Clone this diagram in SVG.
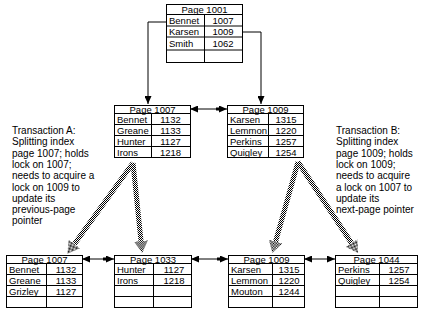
<svg xmlns="http://www.w3.org/2000/svg" width="423" height="316" viewBox="0 0 423 316">
<style>
.cell{fill:#fff;stroke:#000;stroke-width:1}
.grid{stroke:#000;stroke-width:1;fill:none}
text{font-family:"Liberation Sans",Arial,sans-serif;font-size:9.5px;fill:#000}
.hd{text-anchor:middle}
.num{text-anchor:middle}
.note{font-size:10px}
.conn{stroke:#000;stroke-width:1;fill:none}
.hatch{stroke:url(#hatch);stroke-width:5;fill:none}
</style>
<defs>
<pattern id="hatch" width="2" height="2" patternUnits="userSpaceOnUse">
<rect width="2" height="2" fill="#fff"/>
<rect width="1" height="1" fill="#000"/>
<rect x="1" y="1" width="1" height="1" fill="#000"/>
</pattern>
<marker id="ah" viewBox="0 0 8 7" refX="8" refY="3.5" markerWidth="8" markerHeight="7" markerUnits="userSpaceOnUse" orient="auto-start-reverse">
<path d="M0,0 L8,3.5 L0,7 z" fill="#000"/>
</marker>
<marker id="hh" viewBox="0 0 12 14" refX="0" refY="7" markerWidth="12" markerHeight="14" markerUnits="userSpaceOnUse" orient="auto">
<path d="M0,0 L12,7 L0,14 z" fill="url(#hatch)"/>
</marker>
</defs>
<rect width="423" height="316" fill="#fff"/>

<g id="connectors">
<polyline class="conn" points="166,22 148,22 148,104" marker-end="url(#ah)"/>
<polyline class="conn" points="242,32 261,32 261,104" marker-end="url(#ah)"/>
<line class="conn" x1="190" y1="109" x2="227" y2="109" marker-start="url(#ah)" marker-end="url(#ah)"/>
<rect x="216" y="107.5" width="3" height="3" fill="#000"/>
<line class="conn" x1="82" y1="259" x2="114" y2="259" marker-start="url(#ah)" marker-end="url(#ah)"/>
<rect x="103" y="257.5" width="3" height="3" fill="#000"/>
<line class="conn" x1="191" y1="259" x2="228" y2="259" marker-start="url(#ah)" marker-end="url(#ah)"/>
<rect x="217" y="257.5" width="3" height="3" fill="#000"/>
<line class="conn" x1="304" y1="259" x2="335" y2="259" marker-start="url(#ah)" marker-end="url(#ah)"/>
<line class="hatch" x1="133" y1="163" x2="74.4" y2="244" marker-end="url(#hh)"/>
<line class="hatch" x1="133" y1="163" x2="141" y2="241" marker-end="url(#hh)"/>
<line class="hatch" x1="298" y1="162" x2="275.6" y2="241.5" marker-end="url(#hh)"/>
<line class="hatch" x1="298" y1="162" x2="351.5" y2="243" marker-end="url(#hh)"/>
</g>

<g id="page1001">
<rect class="cell" x="166.5" y="4.5" width="76" height="58"/>
<path class="grid" d="M166.5,14.5H242.5M166.5,26H242.5M166.5,37H242.5M166.5,50H242.5M204.5,14.5V62.5"/>
<text class="hd" x="204.5" y="12.5">Page 1001</text>
<text x="169" y="23.5">Bennet</text><text class="num" x="223" y="23.5">1007</text>
<text x="169" y="34.5">Karsen</text><text class="num" x="223" y="34.5">1009</text>
<text x="169" y="46.5">Smith</text><text class="num" x="223" y="46.5">1062</text>
</g>

<g id="page1007a">
<rect class="cell" x="114.5" y="105.5" width="76" height="52"/>
<path class="grid" d="M114.5,113.5H190.5M114.5,124.5H190.5M114.5,135.5H190.5M114.5,146.5H190.5M151.5,113.5V157.5"/>
<text class="hd" x="152.5" y="112.5">Page 1007</text>
<text x="117" y="122.5">Bennet</text><text class="num" x="170.5" y="122.5">1132</text>
<text x="117" y="133.5">Greane</text><text class="num" x="170.5" y="133.5">1133</text>
<text x="117" y="144.5">Hunter</text><text class="num" x="170.5" y="144.5">1127</text>
<text x="117" y="155.5">Irons</text><text class="num" x="170.5" y="155.5">1218</text>
</g>

<g id="page1009a">
<rect class="cell" x="227.5" y="105.5" width="76" height="52"/>
<path class="grid" d="M227.5,113.5H303.5M227.5,124.5H303.5M227.5,135.5H303.5M227.5,146.5H303.5M268.5,113.5V157.5"/>
<text class="hd" x="265.5" y="112.5">Page 1009</text>
<text x="230" y="122.5">Karsen</text><text class="num" x="286" y="122.5">1315</text>
<text x="230" y="133.5">Lemmon</text><text class="num" x="286" y="133.5">1220</text>
<text x="230" y="144.5">Perkins</text><text class="num" x="286" y="144.5">1257</text>
<text x="230" y="155.5">Quigley</text><text class="num" x="286" y="155.5">1254</text>
</g>

<g id="noteA">
<text class="note" x="12" y="134">Transaction A:</text>
<text class="note" x="12" y="145.3">Splitting index</text>
<text class="note" x="12" y="156.6">page 1007; holds</text>
<text class="note" x="12" y="167.9">lock on 1007;</text>
<text class="note" x="12" y="179.2">needs to acquire a</text>
<text class="note" x="12" y="190.5">lock on 1009 to</text>
<text class="note" x="12" y="201.8">update its</text>
<text class="note" x="12" y="213.1">previous-page</text>
<text class="note" x="12" y="224.4">pointer</text>
</g>

<g id="noteB">
<text class="note" x="336" y="134">Transaction B:</text>
<text class="note" x="336" y="145.3">Splitting index</text>
<text class="note" x="336" y="156.6">page 1009; holds</text>
<text class="note" x="336" y="167.9">lock on 1009;</text>
<text class="note" x="336" y="179.2">needs to acquire</text>
<text class="note" x="336" y="190.5">a lock on 1007 to</text>
<text class="note" x="336" y="201.8">update its</text>
<text class="note" x="336" y="213.1">next-page pointer</text>
</g>

<g id="page1007b">
<rect class="cell" x="6.5" y="255.5" width="76" height="52"/>
<path class="grid" d="M6.5,263.5H82.5M6.5,274.5H82.5M6.5,285.5H82.5M6.5,296.5H82.5M46.5,263.5V307.5"/>
<text class="hd" x="44.5" y="262.5">Page 1007</text>
<text x="9" y="272.5">Bennet</text><text class="num" x="66" y="272.5">1132</text>
<text x="9" y="283.5">Greane</text><text class="num" x="66" y="283.5">1133</text>
<text x="9" y="294.5">Grizley</text><text class="num" x="66" y="294.5">1127</text>
</g>

<g id="page1033">
<rect class="cell" x="114.5" y="255.5" width="77" height="52"/>
<path class="grid" d="M114.5,263.5H191.5M114.5,274.5H191.5M114.5,285.5H191.5M114.5,296.5H191.5M153.5,263.5V307.5"/>
<text class="hd" x="153" y="262.5">Page 1033</text>
<text x="117" y="272.5">Hunter</text><text class="num" x="174" y="272.5">1127</text>
<text x="117" y="283.5">Irons</text><text class="num" x="174" y="283.5">1218</text>
</g>

<g id="page1009b">
<rect class="cell" x="228.5" y="255.5" width="76" height="52"/>
<path class="grid" d="M228.5,263.5H304.5M228.5,274.5H304.5M228.5,285.5H304.5M228.5,296.5H304.5M272.5,263.5V307.5"/>
<text class="hd" x="266.5" y="262.5">Page 1009</text>
<text x="231" y="272.5">Karsen</text><text class="num" x="289" y="272.5">1315</text>
<text x="231" y="283.5">Lemmon</text><text class="num" x="289" y="283.5">1220</text>
<text x="231" y="294.5">Mouton</text><text class="num" x="289" y="294.5">1244</text>
</g>

<g id="page1044">
<rect class="cell" x="335.5" y="255.5" width="82" height="52"/>
<path class="grid" d="M335.5,263.5H417.5M335.5,274.5H417.5M335.5,285.5H417.5M335.5,296.5H417.5M379.5,263.5V307.5"/>
<text class="hd" x="376.5" y="262.5">Page 1044</text>
<text x="338" y="272.5">Perkins</text><text class="num" x="399" y="272.5">1257</text>
<text x="338" y="283.5">Quigley</text><text class="num" x="399" y="283.5">1254</text>
</g>
</svg>
